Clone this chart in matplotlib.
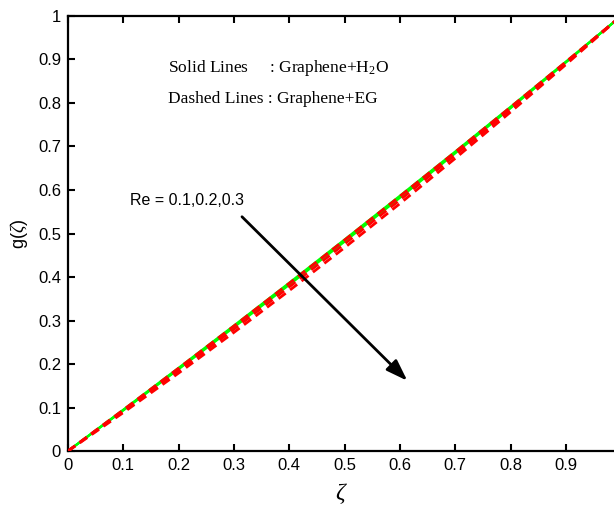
import matplotlib
matplotlib.use("Agg")
import matplotlib.pyplot as plt

# ── Data ───────────────────────────────────────────────────────────────────────
zeta = [0.0, 0.1, 0.2, 0.3, 0.4, 0.5, 0.6, 0.7, 0.8, 0.9, 1.0]

# Graphene+H2O (solid), Re = 0.1, 0.2, 0.3
g_h2o_1 = [0.0, 0.0950, 0.1912, 0.2884, 0.3868, 0.4862, 0.5868, 0.6884, 0.7912, 0.8950, 1.0]
g_h2o_2 = [0.0, 0.0941, 0.1896, 0.2864, 0.3844, 0.4838, 0.5844, 0.6864, 0.7896, 0.8941, 1.0]
g_h2o_3 = [0.0, 0.0932, 0.1880, 0.2843, 0.3820, 0.4812, 0.5820, 0.6843, 0.7880, 0.8932, 1.0]

# Graphene+EG (dashed), Re = 0.1, 0.2, 0.3
g_eg_1 = [0.0, 0.0946, 0.1904, 0.2874, 0.3856, 0.4850, 0.5856, 0.6874, 0.7904, 0.8946, 1.0]
g_eg_2 = [0.0, 0.0915, 0.1848, 0.2801, 0.3772, 0.4762, 0.5772, 0.6801, 0.7848, 0.8915, 1.0]
g_eg_3 = [0.0, 0.0883, 0.1792, 0.2727, 0.3688, 0.4675, 0.5688, 0.6727, 0.7792, 0.8883, 1.0]

xticks = [0, 0.1, 0.2, 0.3, 0.4, 0.5, 0.6, 0.7, 0.8, 0.9]
yticks = [0, 0.1, 0.2, 0.3, 0.4, 0.5, 0.6, 0.7, 0.8, 0.9, 1]

plt.rcParams["font.family"] = ["Liberation Sans", "DejaVu Sans"]
plt.rcParams["mathtext.fontset"] = "custom"
plt.rcParams["mathtext.rm"] = "Liberation Serif"
plt.rcParams["mathtext.it"] = "Liberation Serif:italic"

fig = plt.figure(figsize=(6.14, 5.11), dpi=100)
ax = fig.add_axes([0.1107, 0.1174, 0.8893, 0.8513])

for g in (g_h2o_1, g_h2o_2, g_h2o_3):
    ax.plot(zeta, g, color="#00ff00", lw=1.6, zorder=2)
for g in (g_eg_1, g_eg_2, g_eg_3):
    ax.plot(zeta, g, color="#ff0000", lw=2.0, ls=(0, (3.2, 2.0)), zorder=3)

ax.set_xlim(0, 0.987)
ax.set_ylim(0, 1)
ax.set_xticks(xticks)
ax.set_xticklabels([f"{t:g}" for t in xticks])
ax.set_yticks(yticks)
ax.set_yticklabels([f"{t:g}" for t in yticks])
ax.tick_params(direction="in", length=5, width=1.5, labelsize=12,
               top=True, right=False, pad=5)
for side in ("left", "bottom", "top"):
    ax.spines[side].set_linewidth(1.6)
ax.spines["right"].set_visible(False)

ax.set_xlabel(r"$\it{\zeta}$", fontsize=17, family="DejaVu Serif", labelpad=6)
ax.set_ylabel(r"g($\zeta$)", fontsize=13, labelpad=6)

# Annotations
ax.annotate("", xy=(0.617, 0.157), xytext=(0.311, 0.543),
            arrowprops=dict(arrowstyle="-|>,head_length=1.3,head_width=0.45",
                            color="black", lw=2.0), zorder=5)
ax.text(0.112, 0.575, "Re = 0.1,0.2,0.3", fontsize=11.5, va="center", ha="left")

ax.text(0.181, 0.880, "Solid Lines     : Graphene+H$_2$O", fontsize=12.5,
        family="Liberation Serif", va="center")
ax.text(0.181, 0.810, "Dashed Lines : Graphene+EG", fontsize=12.5,
        family="Liberation Serif", va="center")

fig.savefig("out.png", dpi=100)
